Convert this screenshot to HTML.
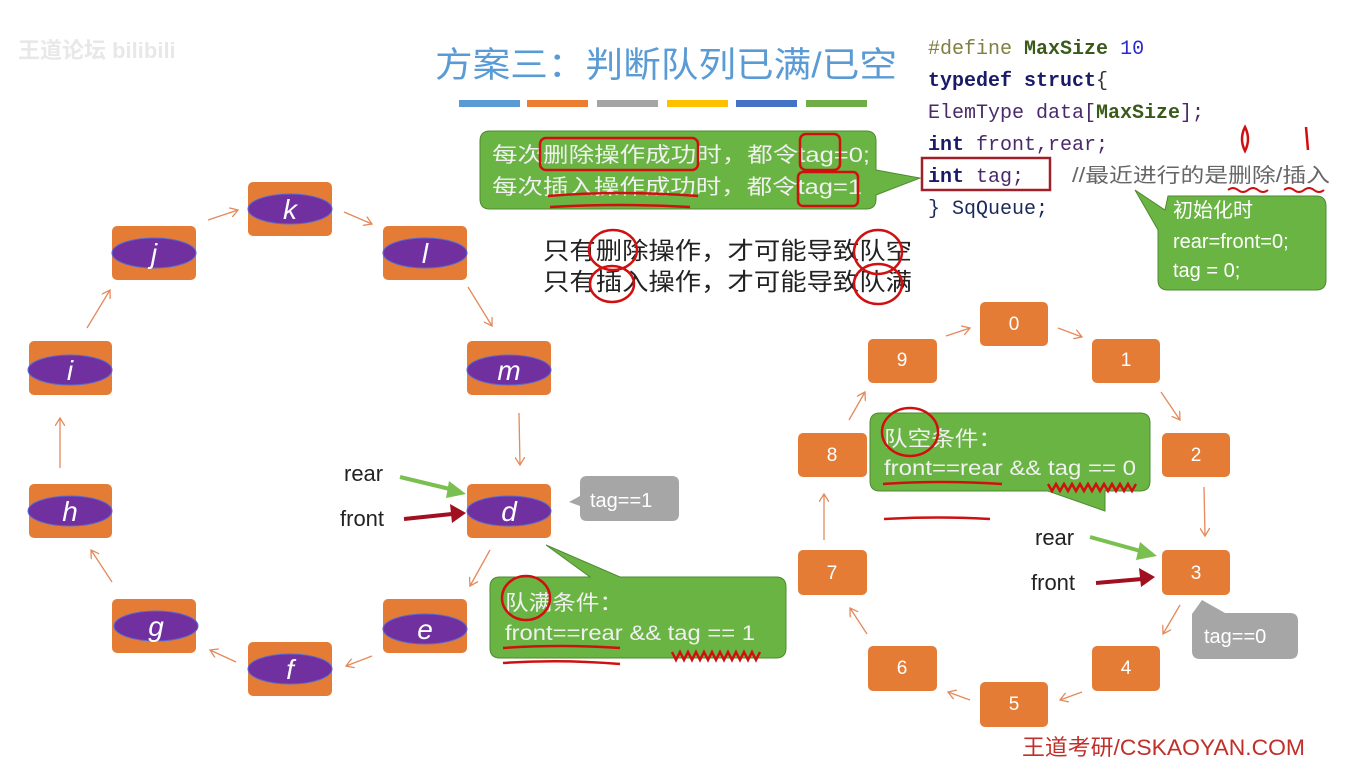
<!DOCTYPE html>
<html><head><meta charset="utf-8"><style>
html,body{margin:0;padding:0;background:#fff;}
svg{display:block}
.cn{font-family:"Liberation Sans","Noto Sans CJK SC",sans-serif;}
.mono{font-family:"Liberation Mono","DejaVu Sans Mono",monospace;font-weight:bold;}
</style></head><body>
<svg width="1360" height="767" viewBox="0 0 1360 767" xmlns="http://www.w3.org/2000/svg">
<defs>
<marker id="oa" markerWidth="10" markerHeight="10" refX="8" refY="5" orient="auto" markerUnits="userSpaceOnUse"><path d="M0,0 L8,5 L0,10" fill="none" stroke="#e4895a" stroke-width="1.3"/></marker>
</defs>
<rect width="1360" height="767" fill="#fff"/>
<text x="18" y="58" class="cn" font-size="22" fill="#e8e8e8" font-weight="bold">王道论坛 bilibili</text>

<!-- title -->
<text x="435" y="77" class="cn" font-size="35" fill="#5a9bd5" textLength="462" lengthAdjust="spacingAndGlyphs">方案三：判断队列已满/已空</text>
<g>
<rect x="459" y="100" width="61" height="7" fill="#5b9bd5"/>
<rect x="527" y="100" width="61" height="7" fill="#ed7d31"/>
<rect x="597" y="100" width="61" height="7" fill="#a5a5a5"/>
<rect x="667" y="100" width="61" height="7" fill="#ffc000"/>
<rect x="736" y="100" width="61" height="7" fill="#4472c4"/>
<rect x="806" y="100" width="61" height="7" fill="#70ad47"/>
</g>

<!-- code -->
<g class="mono" font-size="20">
<text x="928" y="54"><tspan fill="#7f7f3f" font-weight="normal">#define</tspan> <tspan fill="#3a5a1a">MaxSize</tspan> <tspan fill="#2a2ad0" font-weight="normal">10</tspan></text>
<text x="928" y="86" fill="#1a1a6a">typedef struct<tspan fill="#333" font-weight="normal">{</tspan></text>
<text x="928" y="118" font-weight="normal" fill="#4a2a6a">ElemType data[<tspan fill="#3a5a1a" font-weight="bold">MaxSize</tspan>];</text>
<text x="928" y="150" fill="#1a1a6a">int <tspan font-weight="normal" fill="#4a2a6a">front,rear;</tspan></text>
<text x="928" y="182" fill="#1a1a6a">int <tspan font-weight="normal" fill="#4a2a6a">tag;</tspan></text>
<text x="928" y="214" font-weight="normal" fill="#1a2a5a">} SqQueue;</text>
</g>
<rect x="922" y="158" width="128" height="32" fill="none" stroke="#a0202a" stroke-width="2.5"/>
<text x="1072" y="182" class="cn" font-size="20" fill="#666" textLength="258" lengthAdjust="spacingAndGlyphs">//最近进行的是删除/插入</text>
<path d="M1245,127 q-6,12 0,24 q6,-12 0,-24 Z" fill="none" stroke="#d01010" stroke-width="2.5"/>
<path d="M1306,127 L1308,150" stroke="#d01010" stroke-width="2.5"/>
<path d="M1228,190 q5,-4 10,0 q5,4 10,0 q5,-4 10,0 q5,4 10,0 M1284,190 q5,-4 10,0 q5,4 10,0 q5,-4 10,0 q5,4 10,0" fill="none" stroke="#d01010" stroke-width="2"/>

<!-- init callout -->
<path d="M1168,196 L1316,196 Q1326,196 1326,206 L1326,280 Q1326,290 1316,290 L1168,290 Q1158,290 1158,280 L1158,230 L1135,190 L1165,210 Z" fill="#6ab444" stroke="#4e8a30"/>
<g class="cn" font-size="20" fill="#fff">
<text x="1173" y="217">初始化时</text>
<text x="1173" y="248">rear=front=0;</text>
<text x="1173" y="277">tag = 0;</text>
</g>

<!-- top callout -->
<path d="M490,131 L866,131 Q876,131 876,141 L876,170 L920,178 L876,195 L876,199 Q876,209 866,209 L490,209 Q480,209 480,199 L480,141 Q480,131 490,131 Z" fill="#6ab444" stroke="#4e8a30"/>
<g class="cn" font-size="21" fill="#f0f0f0">
<text x="492" y="162" textLength="378" lengthAdjust="spacingAndGlyphs">每次删除操作成功时，都令tag=0;</text>
<text x="492" y="194" textLength="370" lengthAdjust="spacingAndGlyphs">每次插入操作成功时，都令tag=1</text>
</g>
<g fill="none" stroke="#d01010" stroke-width="2.5">
<rect x="540" y="138" width="158" height="32" rx="6"/>
<rect x="800" y="134" width="40" height="36" rx="6"/>
<rect x="798" y="172" width="60" height="34" rx="5"/>
<path d="M548,196 Q620,190 698,196 M550,207 Q620,203 690,207"/>
</g>

<text x="543" y="259" class="cn" font-size="24" fill="#222" textLength="369" lengthAdjust="spacingAndGlyphs">只有删除操作，才可能导致队空</text>
<text x="543" y="290" class="cn" font-size="24" fill="#222" textLength="369" lengthAdjust="spacingAndGlyphs">只有插入操作，才可能导致队满</text>
<g fill="none" stroke="#d01010" stroke-width="2.5">
<ellipse cx="613" cy="250" rx="24" ry="20"/><ellipse cx="612" cy="284" rx="22" ry="18"/>
<ellipse cx="878" cy="252" rx="24" ry="22"/><ellipse cx="878" cy="284" rx="24" ry="20"/>
</g>

<!-- left ring arrows -->
<g stroke="#e4895a" stroke-width="1.3" marker-end="url(#oa)">
<line x1="208" y1="220" x2="238" y2="210"/>
<line x1="344" y1="212" x2="372" y2="224"/>
<line x1="468" y1="287" x2="492" y2="326"/>
<line x1="519" y1="413" x2="520" y2="465"/>
<line x1="490" y1="550" x2="470" y2="586"/>
<line x1="372" y1="656" x2="346" y2="666"/>
<line x1="236" y1="662" x2="210" y2="650"/>
<line x1="112" y1="582" x2="91" y2="550"/>
<line x1="60" y1="468" x2="60" y2="418"/>
<line x1="87" y1="328" x2="110" y2="290"/>
</g>
<!-- left nodes -->
<g font-family="Liberation Sans" font-style="italic" font-size="28" fill="#fff" text-anchor="middle">
<g><rect x="248" y="182" width="84" height="54" rx="5" fill="#e57c36"/><ellipse cx="290" cy="209" rx="42" ry="15" fill="#7030a0" stroke="#5a6ad0"/><text x="290" y="219">k</text></g>
<g><rect x="112" y="226" width="84" height="54" rx="5" fill="#e57c36"/><ellipse cx="154" cy="253" rx="42" ry="15" fill="#7030a0" stroke="#5a6ad0"/><text x="154" y="263">j</text></g>
<g><rect x="383" y="226" width="84" height="54" rx="5" fill="#e57c36"/><ellipse cx="425" cy="253" rx="42" ry="15" fill="#7030a0" stroke="#5a6ad0"/><text x="425" y="263">l</text></g>
<g><rect x="29" y="341" width="83" height="54" rx="5" fill="#e57c36"/><ellipse cx="70" cy="370" rx="42" ry="15" fill="#7030a0" stroke="#5a6ad0"/><text x="70" y="380">i</text></g>
<g><rect x="467" y="341" width="84" height="54" rx="5" fill="#e57c36"/><ellipse cx="509" cy="370" rx="42" ry="15" fill="#7030a0" stroke="#5a6ad0"/><text x="509" y="380">m</text></g>
<g><rect x="29" y="484" width="83" height="54" rx="5" fill="#e57c36"/><ellipse cx="70" cy="511" rx="42" ry="15" fill="#7030a0" stroke="#5a6ad0"/><text x="70" y="521">h</text></g>
<g><rect x="467" y="484" width="84" height="54" rx="5" fill="#e57c36"/><ellipse cx="509" cy="511" rx="42" ry="15" fill="#7030a0" stroke="#5a6ad0"/><text x="509" y="521">d</text></g>
<g><rect x="112" y="599" width="84" height="54" rx="5" fill="#e57c36"/><ellipse cx="156" cy="626" rx="42" ry="15" fill="#7030a0" stroke="#5a6ad0"/><text x="156" y="636">g</text></g>
<g><rect x="383" y="599" width="84" height="54" rx="5" fill="#e57c36"/><ellipse cx="425" cy="629" rx="42" ry="15" fill="#7030a0" stroke="#5a6ad0"/><text x="425" y="639">e</text></g>
<g><rect x="248" y="642" width="84" height="54" rx="5" fill="#e57c36"/><ellipse cx="290" cy="669" rx="42" ry="15" fill="#7030a0" stroke="#5a6ad0"/><text x="290" y="679">f</text></g>
</g>

<!-- rear/front left -->
<text x="344" y="481" font-family="Liberation Sans" font-size="22" fill="#222">rear</text>
<text x="340" y="526" font-family="Liberation Sans" font-size="22" fill="#222">front</text>
<path d="M400,477 L454,490" stroke="#7ac050" stroke-width="4"/><path d="M466,494 L449,481 L446,498 Z" fill="#7ac050"/>
<path d="M404,519 L452,514" stroke="#a01020" stroke-width="4"/><path d="M466,513 L450,504 L452,523 Z" fill="#a01020"/>
<!-- tag==1 -->
<path d="M587,476 L672,476 Q679,476 679,483 L679,514 Q679,521 672,521 L587,521 Q580,521 580,514 L580,506 L569,502 L580,496 L580,483 Q580,476 587,476 Z" fill="#a6a6a6"/>
<text x="590" y="507" font-family="Liberation Sans" font-size="20" fill="#fff">tag==1</text>
<!-- full callout -->
<path d="M500,577 L590,577 L546,545 L620,577 L776,577 Q786,577 786,587 L786,648 Q786,658 776,658 L500,658 Q490,658 490,648 L490,587 Q490,577 500,577 Z" fill="#6ab444" stroke="#4e8a30"/>
<text x="505" y="610" class="cn" font-size="21" fill="#f0f0f0" textLength="118" lengthAdjust="spacingAndGlyphs">队满条件：</text>
<text x="505" y="640" font-family="Liberation Sans" font-size="21" fill="#f0f0f0" textLength="250" lengthAdjust="spacingAndGlyphs">front==rear &amp;&amp; tag == 1</text>
<g fill="none" stroke="#d01010" stroke-width="2.5">
<ellipse cx="526" cy="598" rx="24" ry="22"/>
<path d="M503,648 Q560,644 620,648 M503,663 Q560,659 620,664"/>
<path d="M672,652 l4,8 l4,-8 l4,8 l4,-8 l4,8 l4,-8 l4,8 l4,-8 l4,8 l4,-8 l4,8 l4,-8 l4,8 l4,-8 l4,8 l4,-8 l4,8 l4,-8 l4,8 l4,-8 l4,8 l4,-8"/>
</g>

<!-- right ring arrows -->
<g stroke="#e4895a" stroke-width="1.3" marker-end="url(#oa)">
<line x1="946" y1="336" x2="970" y2="328"/>
<line x1="1058" y1="328" x2="1082" y2="337"/>
<line x1="1161" y1="392" x2="1180" y2="420"/>
<line x1="1204" y1="487" x2="1205" y2="536"/>
<line x1="1180" y1="605" x2="1163" y2="634"/>
<line x1="1082" y1="692" x2="1060" y2="700"/>
<line x1="970" y1="700" x2="948" y2="692"/>
<line x1="867" y1="634" x2="850" y2="608"/>
<line x1="824" y1="540" x2="824" y2="494"/>
<line x1="849" y1="420" x2="865" y2="392"/>
</g>
<g font-family="Liberation Sans" font-size="19" fill="#fff" text-anchor="middle">
<rect x="980" y="302" width="68" height="44" rx="5" fill="#e57c36"/><text x="1014" y="330">0</text>
<rect x="868" y="339" width="69" height="44" rx="5" fill="#e57c36"/><text x="902" y="366">9</text>
<rect x="1092" y="339" width="68" height="44" rx="5" fill="#e57c36"/><text x="1126" y="366">1</text>
<rect x="798" y="433" width="69" height="44" rx="5" fill="#e57c36"/><text x="832" y="461">8</text>
<rect x="1162" y="433" width="68" height="44" rx="5" fill="#e57c36"/><text x="1196" y="461">2</text>
<rect x="798" y="550" width="69" height="45" rx="5" fill="#e57c36"/><text x="832" y="579">7</text>
<rect x="1162" y="550" width="68" height="45" rx="5" fill="#e57c36"/><text x="1196" y="579">3</text>
<rect x="868" y="646" width="69" height="45" rx="5" fill="#e57c36"/><text x="902" y="674">6</text>
<rect x="1092" y="646" width="68" height="45" rx="5" fill="#e57c36"/><text x="1126" y="674">4</text>
<rect x="980" y="682" width="68" height="45" rx="5" fill="#e57c36"/><text x="1014" y="710">5</text>
</g>
<!-- empty callout -->
<path d="M880,413 L1140,413 Q1150,413 1150,423 L1150,481 Q1150,491 1140,491 L1105,491 L1105,511 L1048,491 L880,491 Q870,491 870,481 L870,423 Q870,413 880,413 Z" fill="#6ab444" stroke="#4e8a30"/>
<text x="884" y="446" class="cn" font-size="21" fill="#f0f0f0" textLength="118" lengthAdjust="spacingAndGlyphs">队空条件：</text>
<text x="884" y="475" font-family="Liberation Sans" font-size="21" fill="#f0f0f0" textLength="252" lengthAdjust="spacingAndGlyphs">front==rear &amp;&amp; tag == 0</text>
<g fill="none" stroke="#d01010" stroke-width="2.5">
<ellipse cx="910" cy="432" rx="28" ry="24"/>
<path d="M883,484 Q940,480 1002,484 M884,519 Q940,516 990,519"/>
<path d="M1048,484 l4,7 l4,-7 l4,7 l4,-7 l4,7 l4,-7 l4,7 l4,-7 l4,7 l4,-7 l4,7 l4,-7 l4,7 l4,-7 l4,7 l4,-7 l4,7 l4,-7 l4,7 l4,-7 l4,7 l4,-7"/>
</g>
<text x="1035" y="545" font-family="Liberation Sans" font-size="22" fill="#222">rear</text>
<text x="1031" y="590" font-family="Liberation Sans" font-size="22" fill="#222">front</text>
<path d="M1090,537 L1144,552" stroke="#7ac050" stroke-width="4"/><path d="M1157,556 L1140,542 L1136,560 Z" fill="#7ac050"/>
<path d="M1096,583 L1142,579" stroke="#a01020" stroke-width="4"/><path d="M1155,577 L1139,568 L1141,587 Z" fill="#a01020"/>
<path d="M1200,613 L1290,613 Q1298,613 1298,621 L1298,651 Q1298,659 1290,659 L1200,659 Q1192,659 1192,651 L1192,614 L1202,600 L1225,613 Z" fill="#a6a6a6"/>
<text x="1204" y="643" font-family="Liberation Sans" font-size="20" fill="#fff">tag==0</text>

<text x="1022" y="755" class="cn" font-size="22" fill="#c0302a" textLength="283" lengthAdjust="spacingAndGlyphs">王道考研/CSKAOYAN.COM</text>
</svg>
</body></html>
